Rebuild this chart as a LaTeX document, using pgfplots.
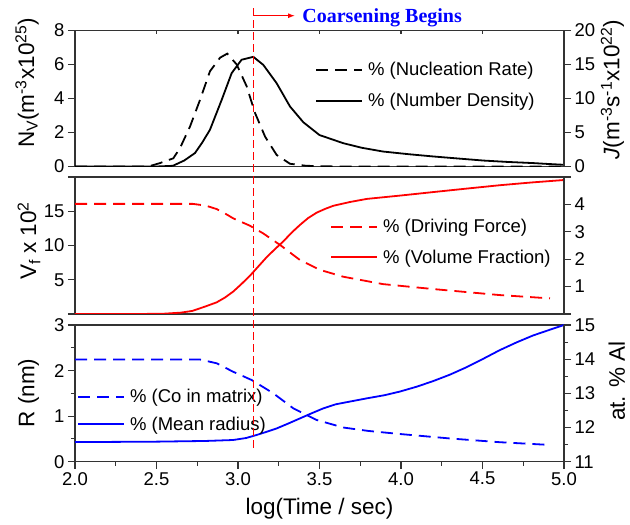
\documentclass[border=0pt]{standalone}
\usepackage{fontspec}
\setmainfont{Liberation Sans}
\newfontfamily\coarsefont{Liberation Serif}
\usepackage{pgfplots}
\pgfplotsset{compat=1.18}
\usetikzlibrary{arrows.meta}

\newcommand\tickfont{\fontsize{18.5}{20}\selectfont}
\newcommand\labfont{\fontsize{22.5}{24}\selectfont}
\newcommand\legfont{\fontsize{18.5}{20}\selectfont}

\pgfplotsset{
  panel/.style={
    scale only axis, width=489pt, xmin=2, xmax=5, anchor=south west,
    axis line style={line width=1.2pt, black!80},
    tick style={line width=1.1pt, black!80},
    tick align=outside, major tick length=7pt, minor tick length=4pt,
    tick label style={font=\tickfont},
    /pgf/number format/assume math mode=true,
  },
  leftpanel/.style={panel, ytick pos=left,
    ylabel style={font=\labfont, anchor=center}},
  rightpanel/.style={panel, axis y line*=right, axis x line=none,
    every axis y label/.style={font=\labfont, rotate=90, anchor=center}},
  % one-entry legend, placed by the west end of its line sample
  legendat/.style={
    legend style={draw=none, fill=none, inner sep=0pt, font=\legfont,
      column sep=5pt, nodes={inner sep=0pt}, anchor=west, at={#1}},
    legend cell align=left,
    legend image post style={xscale=2.7},
  },
}

\begin{document}
\begin{tikzpicture}
\path[use as bounding box] (0pt,0pt) rectangle (630pt,525pt);

% ---------- top panel: number density / nucleation rate ----------
\begin{axis}[leftpanel, at={(75pt,358.5pt)}, height=136pt,
  ymin=0, ymax=8, ytick={0,2,...,8}, xtick=\empty,
  ylabel={N\textsubscript{V}(m\textsuperscript{-3}x10\textsuperscript{25})},
  ylabel style={at={(axis description cs:-0.098,0.615)}},
  legendat={(axis description cs:0.4908,0.4816)}]
\addplot[line width=1.8pt, black] coordinates {
 (2.0,0) (2.5,0) (2.6,0.04) (2.67,0.35) (2.736,0.79) (2.78,1.4) (2.828,2.16)
 (2.9,3.92) (2.961,5.49) (3.022,6.28) (3.094,6.45) (3.155,5.98) (3.237,4.9)
 (3.319,3.53) (3.401,2.6) (3.5,1.85) (3.646,1.37) (3.76,1.1) (3.89,0.88)
 (4.05,0.72) (4.198,0.59) (4.35,0.47) (4.505,0.35) (4.65,0.27) (4.812,0.2)
 (4.9,0.15) (5.0,0.1)};
\addlegendentry{\% (Number Density)}
\end{axis}

\begin{axis}[rightpanel, at={(75pt,358.5pt)}, height=136pt,
  ymin=0, ymax=20, ytick={0,5,...,20},
  ylabel={\textit{J}(m\textsuperscript{-3}s\textsuperscript{-1}x10\textsuperscript{22})},
  every axis y label/.append style={at={(axis description cs:1.099,0.564)}},
  legendat={(axis description cs:0.4908,0.7096)}]
\addplot[line width=1.8pt, dash pattern=on 12pt off 7pt, black] coordinates {
 (2.0,0) (2.45,0) (2.521,0.5) (2.603,1.2) (2.644,2.7) (2.706,5.9) (2.767,9.8)
 (2.828,14.0) (2.89,16.0) (2.934,16.6) (2.992,15.0) (3.053,11.8) (3.104,7.9)
 (3.166,4.4) (3.237,1.7) (3.319,0.4) (3.42,0.1) (3.6,0) (5.0,0)};
\addlegendentry{\% (Nucleation Rate)}
\end{axis}

% ---------- middle panel: volume fraction / driving force ----------
\begin{axis}[leftpanel, at={(75pt,211pt)}, height=137pt,
  ymin=0, ymax=20, ytick={0,5,...,20}, yticklabels={,5,10,15,},
  xtick=\empty,
  ylabel={V\textsubscript{f} x 10\textsuperscript{2}},
  ylabel style={at={(axis description cs:-0.094,0.533)}},
  legendat={(axis description cs:0.5215,0.4139)}]
\addplot[line width=1.8pt, red] coordinates {
 (2.0,0) (2.4,0) (2.55,0.05) (2.65,0.2) (2.72,0.45) (2.8,1.1) (2.869,1.7)
 (2.92,2.4) (2.971,3.28) (3.02,4.35) (3.074,5.6) (3.125,6.95) (3.176,8.3)
 (3.228,9.5) (3.278,10.6) (3.33,11.9) (3.38,13.0) (3.43,14.0) (3.483,14.8)
 (3.535,15.35) (3.585,15.8) (3.687,16.35) (3.79,16.8) (4.0,17.3) (4.198,17.8)
 (4.4,18.3) (4.607,18.8) (4.8,19.2) (5.0,19.56)};
\addlegendentry{\% (Volume Fraction)}
\end{axis}

\begin{axis}[rightpanel, at={(75pt,211pt)}, height=137pt,
  ymin=0, ymax=5, ytick={0,1,...,5}, yticklabels={,1,2,3,4,},
  legendat={(axis description cs:0.5215,0.6372)}]
\addplot[line width=1.8pt, dash pattern=on 12pt off 7pt, red] coordinates {
 (2.0,4.02) (2.72,4.02) (2.8,3.96) (2.869,3.83) (2.92,3.67) (2.971,3.49)
 (3.074,3.22) (3.155,2.94) (3.258,2.52) (3.38,1.97) (3.503,1.61) (3.646,1.36)
 (3.89,1.09) (4.198,0.91) (4.607,0.69) (4.914,0.57)};
\addlegendentry{\% (Driving Force)}
\end{axis}

% ---------- bottom panel: mean radius / matrix composition ----------
\begin{axis}[leftpanel, at={(75pt,63.3pt)}, height=136.7pt,
  ymin=0, ymax=3, ytick={0,1,2,3}, minor y tick num=1,
  xtick={2,2.5,...,5}, minor x tick num=1, xtick pos=left,
  xticklabel style={/pgf/number format/.cd, fixed, fixed zerofill, precision=1},
  xlabel={log(Time / sec)},
  xlabel style={font=\labfont, at={(axis description cs:0.5,-0.346)}, anchor=center},
  ylabel={R (nm)},
  ylabel style={at={(axis description cs:-0.095,0.503)}},
  legendat={(axis description cs:0.004,0.2736)}]
\addplot[line width=1.8pt, blue] coordinates {
 (2.0,0.43) (2.5,0.44) (2.8,0.455) (2.97,0.476) (3.05,0.52) (3.113,0.585)
 (3.17,0.65) (3.237,0.73) (3.31,0.84) (3.38,0.95) (3.45,1.06) (3.523,1.17)
 (3.6,1.26) (3.687,1.32) (3.79,1.39) (3.9,1.46) (3.994,1.54) (4.1,1.65)
 (4.198,1.77) (4.3,1.91) (4.4,2.07) (4.5,2.25) (4.607,2.45) (4.71,2.62)
 (4.81,2.77) (4.9,2.88) (5.0,3.0)};
\addlegendentry{\% (Mean radius)}
\end{axis}

\begin{axis}[rightpanel, at={(75pt,63.3pt)}, height=136.7pt,
  ymin=11, ymax=15, ytick={11,...,15}, minor y tick num=1,
  ylabel={at. \% Al},
  every axis y label/.append style={at={(axis description cs:1.108,0.59)}},
  legendat={(axis description cs:0.004,0.4755)}]
\addplot[line width=1.8pt, dash pattern=on 12pt off 7pt, blue] coordinates {
 (2.0,13.99) (2.767,13.99) (2.869,13.88) (2.971,13.63) (3.084,13.39)
 (3.217,13.0) (3.34,12.56) (3.483,12.22) (3.646,12.0) (3.8,11.9)
 (3.994,11.81) (4.3,11.68) (4.607,11.57) (4.914,11.49)};
\addlegendentry{\% (Co in matrix)}
\end{axis}

% inward ticks along the top edge, plus the onset-of-coarsening marker
% (17pt per unit on this axis, so y=-16.56 reaches down into the bottom panel)
\begin{axis}[panel, at={(75pt,358.5pt)}, height=136pt, ymin=0, ymax=8,
  hide y axis, axis x line*=top, xtick={2,2.5,...,5}, xticklabels={},
  xtick align=inside, major tick length=4pt, clip=false]
\draw[color=red, line width=1.4pt, dash pattern=on 8pt off 4pt]
  (axis cs:3.094,9.32) -- (axis cs:3.094,-16.56);
\draw[color=red, line width=1.2pt, -{Latex[length=7pt,width=5pt]}]
  (axis cs:3.094,8.87) -- (axis cs:3.35,8.87);
\node[anchor=base west, inner sep=0pt, text=blue,
      font={\fontsize{20}{22}\coarsefont\bfseries}]
  at (axis cs:3.394,8.5) {Coarsening Begins};
\end{axis}
\end{tikzpicture}
\end{document}
